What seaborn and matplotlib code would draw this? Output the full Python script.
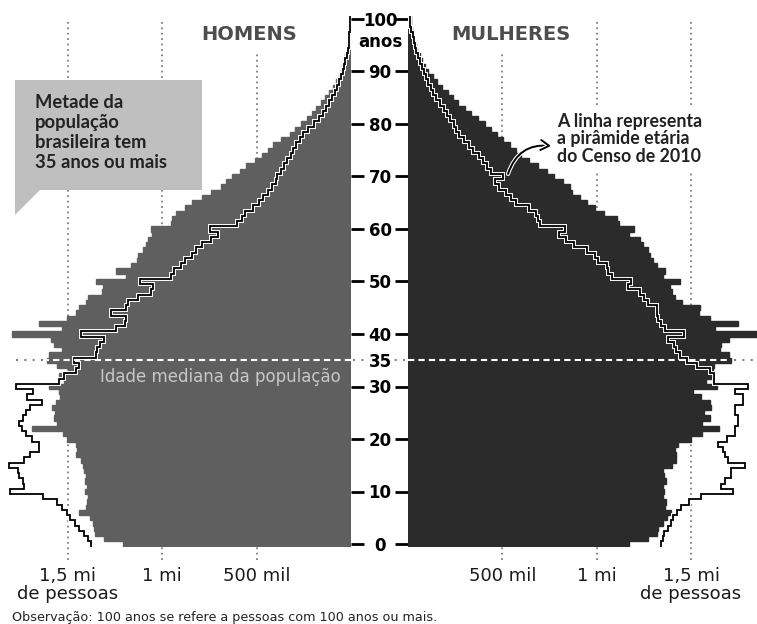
import numpy as np
import pandas as pd
import matplotlib
matplotlib.use("Agg")
import matplotlib.pyplot as plt
import matplotlib.patheffects as pe
from matplotlib.patches import Polygon
import seaborn as sns

# idades de 0 a 100 anos (100 = 100 anos ou mais), valores em milhares de pessoas
ages = list(range(101))

men_2022 = [
    1210, 1310, 1355, 1360, 1365, 1385, 1440, 1405, 1400, 1395,
    1410, 1400, 1410, 1405, 1415, 1420, 1430, 1455, 1450, 1455,
    1505, 1525, 1690, 1560, 1575, 1570, 1585, 1565, 1540, 1545,
    1600, 1520, 1545, 1500, 1560, 1610, 1600, 1530, 1575, 1590,
    1795, 1530, 1655, 1505, 1460, 1442, 1405, 1395, 1320, 1315,
    1350, 1190, 1245, 1165, 1135, 1130, 1100, 1085, 1075, 1055,
    1060, 955, 950, 925, 880, 845, 790, 740, 690, 660,
    630, 590, 555, 510, 470, 440, 415, 370, 325, 295,
    265, 235, 208, 185, 160, 140, 118, 97, 80, 66,
    55, 46, 38, 30, 22, 17, 13, 10, 7, 5,
    6]

men_2010 = [
    1378, 1395, 1415, 1440, 1465, 1490, 1505, 1530, 1560, 1630,
    1805, 1735, 1740, 1760, 1765, 1815, 1735, 1700, 1655, 1655,
    1690, 1720, 1745, 1760, 1740, 1725, 1700, 1640, 1718, 1685,
    1775, 1550, 1520, 1460, 1440, 1470, 1350, 1345, 1330, 1310,
    1430, 1245, 1200, 1190, 1270, 1190, 1180, 1130, 1060, 1050,
    1120, 955, 940, 900, 880, 845, 820, 790, 740, 705,
    745, 605, 580, 560, 520, 485, 465, 440, 420, 400,
    390, 370, 355, 340, 320, 308, 290, 270, 255, 230,
    195, 170, 150, 135, 115, 100, 85, 72, 62, 52,
    45, 37, 30, 23, 18, 13, 10, 8, 6, 4,
    5]

women_2022 = [
    1172, 1270, 1320, 1325, 1350, 1375, 1395, 1360, 1365, 1350,
    1358, 1350, 1365, 1355, 1350, 1400, 1420, 1420, 1415, 1430,
    1500, 1560, 1650, 1560, 1600, 1570, 1605, 1600, 1555, 1510,
    1640, 1580, 1620, 1615, 1620, 1710, 1700, 1655, 1660, 1700,
    1870, 1625, 1750, 1600, 1540, 1545, 1450, 1415, 1400, 1390,
    1440, 1350, 1360, 1320, 1300, 1280, 1270, 1245, 1230, 1170,
    1200, 1120, 1110, 1040, 990, 950, 910, 870, 860, 820,
    775, 735, 690, 640, 600, 575, 540, 505, 470, 440,
    410, 370, 335, 300, 265, 240, 210, 180, 155, 130,
    108, 90, 76, 62, 50, 40, 32, 25, 19, 14,
    16]

women_2010 = [
    1340, 1350, 1358, 1380, 1395, 1405, 1425, 1445, 1490, 1555,
    1722, 1660, 1680, 1713, 1713, 1785, 1696, 1680, 1670, 1642,
    1690, 1731, 1731, 1749, 1749, 1731, 1731, 1775, 1775, 1731,
    1800, 1620, 1620, 1600, 1530, 1480, 1440, 1420, 1410, 1380,
    1465, 1360, 1340, 1325, 1320, 1320, 1270, 1250, 1230, 1165,
    1180, 1080, 1060, 1055, 1005, 990, 950, 880, 840, 800,
    830, 700, 690, 680, 640, 575, 545, 520, 480, 460,
    505, 440, 420, 400, 375, 345, 325, 295, 270, 255,
    245, 225, 205, 190, 170, 150, 135, 120, 108, 95,
    85, 75, 65, 55, 45, 37, 30, 24, 18, 13,
    10]

age_ticks = [0, 10, 20, 30, 35, 40, 50, 60, 70, 80, 90, 100]
grid_vals = [500, 1000, 1500]
men_xlabels = ["500 mil", "1 mi", "1,5 mi\nde pessoas"]
women_xlabels = ["500 mil", "1 mi", "1,5 mi\nde pessoas"]
median_age = 35

MEN = "#5f5f5f"
WOMEN = "#2b2b2b"
GRID = "#808080"

sns.set_theme(style="white")
plt.rcParams["font.family"] = ["Lato", "DejaVu Sans"]

W, H = 757, 624
fig = plt.figure(figsize=(W / 100, H / 100), dpi=100)
fig.patch.set_facecolor("white")

# vertical placement: age 0 at y=544 px, age 100 at y=19 px
ylo, yhi = -0.6, 100.6
bottom = (H - (544 + 0.6 * 5.25)) / H
height = (yhi - ylo) * 5.25 / H
ax_m = fig.add_axes([0, bottom, 351 / W, height])
ax_w = fig.add_axes([408 / W, bottom, 349 / W, height])

df = pd.DataFrame({"idade": ages, "homens": men_2022, "mulheres": women_2022})
sns.barplot(data=df, x="homens", y="idade", orient="h", native_scale=True,
            width=1, color=MEN, saturation=1, errorbar=None,
            linewidth=1.0, edgecolor=MEN, ax=ax_m)
sns.barplot(data=df, x="mulheres", y="idade", orient="h", native_scale=True,
            width=1, color=WOMEN, saturation=1, errorbar=None,
            linewidth=1.0, edgecolor=WOMEN, ax=ax_w)

edges = np.arange(len(ages) + 1) - 0.5
halo = [pe.withStroke(linewidth=2.8, foreground="white")]
ax_m.stairs(men_2010, edges, orientation="horizontal", baseline=None,
            color="black", lw=1.3, path_effects=halo, zorder=4)
ax_w.stairs(women_2010, edges, orientation="horizontal", baseline=None,
            color="black", lw=1.3, path_effects=halo, zorder=4)

ax_m.set_xlim(351 * 5.3, 0)
ax_w.set_xlim(0, 349 * 5.3)
for ax in (ax_m, ax_w):
    ax.set_ylim(ylo, yhi)
    ax.set_xlabel("")
    ax.set_ylabel("")
    sns.despine(ax=ax, left=True, bottom=True)
    ax.set_facecolor("none")
    ax.patch.set_alpha(0)
    # dotted gridlines, running below the axis as tick marks
    for v in grid_vals:
        top = 0.93 if v == 500 else 0.995
        ax.axvline(v, ymin=-0.025, ymax=top, color=GRID, lw=1.3,
                   ls=(0, (1, 2)), clip_on=False, zorder=0.5)

# age labels in the centre column
i35 = age_ticks.index(median_age)
labels = [str(a) for a in age_ticks]
ax_m.set_yticks(age_ticks, labels=labels)
ax_m.yaxis.tick_right()
ax_m.tick_params(axis="y", length=9.5, width=2, color="black", pad=11.4,
                 labelsize=12, labelcolor="black")
for lab in ax_m.get_yticklabels():
    lab.set_horizontalalignment("center")
    lab.set_fontweight("bold")
    lab.set_family("DejaVu Sans")
ax_m.get_yticklabels()[i35].set_bbox(dict(facecolor="white", edgecolor="none", pad=1.5))
ax_m.yaxis.get_major_ticks()[i35].tick2line.set_visible(False)

ax_w.set_yticks(age_ticks, labels=[""] * len(age_ticks))
ax_w.tick_params(axis="y", length=9.5, width=2, color="black", left=True)
ax_w.yaxis.get_major_ticks()[i35].tick1line.set_visible(False)

# x labels
ax_m.set_xticks(grid_vals, labels=men_xlabels)
ax_w.set_xticks(grid_vals, labels=women_xlabels)
for ax in (ax_m, ax_w):
    ax.tick_params(axis="x", length=0, pad=14, labelsize=13, labelcolor="#1a1a1a")
    for lab in ax.get_xticklabels():
        lab.set_linespacing(1.0)
        lab.set_family("DejaVu Sans")

# median age line
m35, w35 = men_2022[median_age], women_2022[median_age]
dash = dict(color="white", lw=1.5, ls=(0, (3, 2)), zorder=5)
dots = dict(color=GRID, lw=1.5, ls=(0, (1, 3)), zorder=0.5)
ax_m.hlines(median_age, 0, m35, **dash)
ax_m.hlines(median_age, m35 + 20, 1790, **dots)
ax_m.hlines(median_age, -10, -300, clip_on=False, **dots)
ax_w.hlines(median_age, 0, w35, **dash)
ax_w.hlines(median_age, w35 + 20, 1850, **dots)

# overlay in pixel coordinates for texts and callouts
ov = fig.add_axes([0, 0, 1, 1], zorder=10)
ov.set_xlim(0, W)
ov.set_ylim(H, 0)
ov.axis("off")

ov.text(249, 34, "HOMENS", ha="center", va="center", fontsize=14,
        fontweight="bold", color="#4d4d4d", family="DejaVu Sans")
ov.text(511, 34, "MULHERES", ha="center", va="center", fontsize=14,
        fontweight="bold", color="#4d4d4d", family="DejaVu Sans")
ov.text(380, 42, "anos", ha="center", va="center", fontsize=12,
        fontweight="bold", color="black", family="DejaVu Sans")

ov.add_patch(Polygon([(15, 80), (202, 80), (202, 190), (40, 190), (15, 215)],
                     closed=True, facecolor="#bfbfbf", edgecolor="none"))
ov.text(35, 94, "Metade da\npopulação\nbrasileira tem\n35 anos ou mais",
        ha="left", va="top", fontsize=13.2, fontweight="bold",
        color="#222222", linespacing=1.22)

ov.text(341, 377, "Idade mediana da população", ha="right", va="center",
        fontsize=12, color="#c8c8c8", family="DejaVu Sans")

ov.text(557, 113, "A linha representa\na pirâmide etária\ndo Censo de 2010",
        ha="left", va="top", fontsize=12.8, fontweight="bold", color="#222222",
        linespacing=1.02,
        bbox=dict(facecolor="white", edgecolor="none", pad=4))
ov.annotate("", xy=(551, 146), xytext=(508, 174),
            arrowprops=dict(arrowstyle="->,head_length=0.5,head_width=0.3",
                            connectionstyle="arc3,rad=-0.4", lw=1.4,
                            color="black", shrinkA=0, shrinkB=0,
                            path_effects=[pe.withStroke(linewidth=3, foreground="white")]))

ov.text(12, 617, "Observação: 100 anos se refere a pessoas com 100 anos ou mais.",
        ha="left", va="center", fontsize=9.2, color="#222222", family="DejaVu Sans")

fig.savefig("out.png", dpi=100)
